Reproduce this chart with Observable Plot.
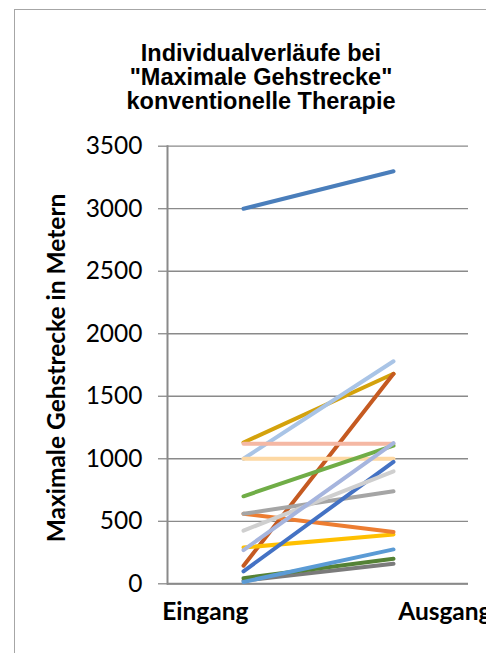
<!DOCTYPE html>
<html>
<head>
<meta charset="utf-8">
<script src="https://cdn.jsdelivr.net/npm/d3@7"></script>
<script src="https://cdn.jsdelivr.net/npm/@observablehq/plot@0.6"></script>
<style>
  html, body { margin: 0; padding: 0; background: #fff; }
  #chart { position: relative; width: 486px; height: 653px; overflow: hidden; background: #fff; }
  #chart svg { position: absolute; left: 0; top: 0; z-index: 1; }
  #frame { position: absolute; left: 14px; top: 9px; width: 600px; height: 700px; z-index: 2;
           border-left: 1.5px solid #a6a6a6; border-top: 1.5px solid #a6a6a6; pointer-events: none; }
  #title { position: absolute; left: 0; top: 40.7px; width: 522px; text-align: center; z-index: 3;
           font: bold 23.5px "Liberation Sans", Arial, sans-serif; line-height: 24.3px; color: #000; }
</style>
</head>
<body>
<div id="chart">
  <div id="frame"></div>
  <div id="title">Individualverläufe bei<br>"Maximale Gehstrecke"<br>konventionelle Therapie</div>
</div>
<script>
// Measurement times on the category axis
const stages = ["Eingang", "Ausgang"];

// One entry per patient, listed in drawing order (later ones paint on top)
const patients = ["P01", "P02", "P03", "P04", "P05", "P06", "P07", "P08",
                  "P09", "P10", "P11", "P12", "P13", "P14", "P15", "P16"];
const eingang  = [3000, 1130, 1000,  145, 1120, 1000,  700,   25,
                    45,   15,  290,  560,  560,  100,  425,  270];
const ausgang  = [3300, 1680, 1780, 1680, 1120, 1000, 1105,  160,
                   200,  275,  395,  415,  740,  975,  900, 1125];
const colors   = ["#4a7ebb", "#d4a20c", "#a9c4e6", "#c55a21", "#f5b8a4", "#fdd8a3", "#70ad47", "#7b7b7b",
                  "#548235", "#5b9bd5", "#ffc000", "#ed7d31", "#a5a5a5", "#4472c4", "#cfcfcf", "#a6b5de"];

// Y axis ticks
const yTicks = [0, 500, 1000, 1500, 2000, 2500, 3000, 3500];
const yTitle = "Maximale Gehstrecke in Metern";

const rows = patients.flatMap((p, i) => [
  {patient: p, stage: stages[0], value: eingang[i]},
  {patient: p, stage: stages[1], value: ausgang[i]}
]);

const labelFont = "Lato, 'Open Sans', sans-serif";
const gridColor = "#8a8a8a";

const chart = Plot.plot({
  width: 486,
  height: 653,
  marginLeft: 167,
  marginRight: 18,
  marginTop: 145.7,
  marginBottom: 69.7,
  style: {background: "transparent", fontFamily: labelFont, overflow: "visible"},
  x: {type: "point", domain: stages, padding: 0.5, axis: null},
  y: {domain: [0, 3500], axis: null},
  color: {type: "ordinal", domain: patients, range: colors},
  marks: [
    Plot.gridY(yTicks, {stroke: gridColor, strokeOpacity: 1, strokeWidth: 1.3}),
    Plot.axisY(yTicks, {
      tickSize: 9, tickPadding: 16, tickFormat: d => String(d),
      stroke: gridColor, strokeWidth: 1.3, fontSize: 24.5, fontFamily: labelFont,
      fill: "#000", label: null
    }),
    Plot.frame({anchor: "left", stroke: gridColor, strokeWidth: 2}),
    Plot.ruleY([0], {stroke: gridColor, strokeWidth: 2}),
    Plot.line(rows, {
      x: "stage", y: "value", z: "patient", stroke: "patient",
      strokeWidth: 4, strokeLinecap: "round", strokeLinejoin: "round"
    }),
    Plot.text([yTitle], {
      frameAnchor: "left", textAnchor: "middle", lineAnchor: "middle", rotate: -90, dx: -110, dy: 3,
      fontSize: 24.5, fontWeight: "bold", fontFamily: labelFont, fill: "#000"
    }),
    Plot.text(stages.slice(0, 1), {
      x: d => d, frameAnchor: "bottom", lineAnchor: "bottom", textAnchor: "end",
      dx: 5, dy: 36, fontSize: 24.5, fontWeight: "bold", fontFamily: labelFont, fill: "#000"
    }),
    Plot.text(stages.slice(1), {
      x: d => d, frameAnchor: "bottom", lineAnchor: "bottom", textAnchor: "start",
      dx: 4.7, dy: 36, fontSize: 24.5, fontWeight: "bold", fontFamily: labelFont, fill: "#000"
    })
  ]
});

document.getElementById("chart").prepend(chart);
</script>
</body>
</html>
